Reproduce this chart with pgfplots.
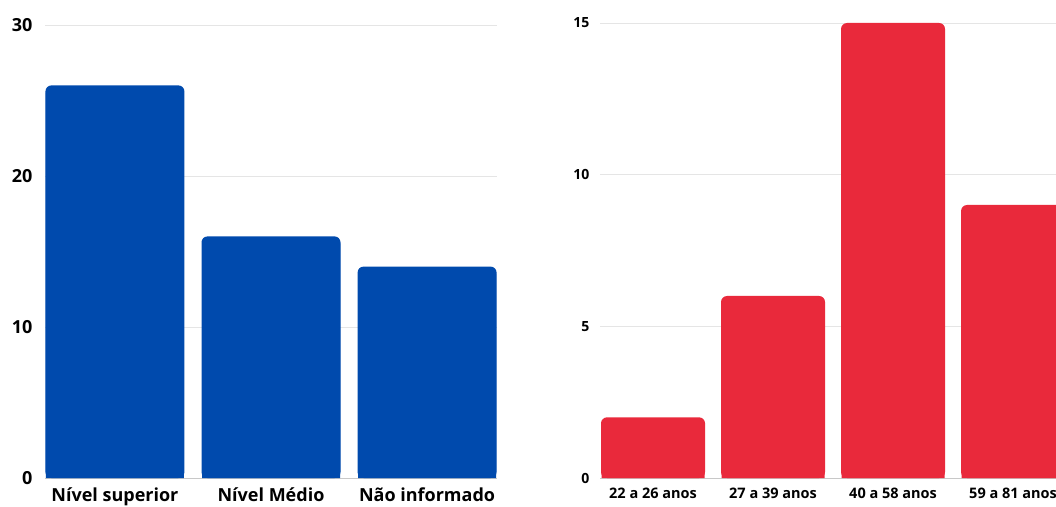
\documentclass[border=0pt]{standalone}
\usepackage{pgfplots}
\pgfplotsset{compat=1.18}
\usepackage{fontspec}
\setmainfont{Open Sans}
\definecolor{barblue}{RGB}{0,74,173}
\definecolor{barred}{RGB}{233,41,59}
\definecolor{gridgray}{RGB}{229,229,229}
\definecolor{basegray}{RGB}{200,200,200}
\pgfplotsset{
  common/.style={
    scale only axis,
    anchor=south west,
    ymin=0,
    axis x line*=bottom,
    axis y line*=left,
    y axis line style={draw=none},
    x axis line style={draw=basegray, line width=0.8pt},
    major tick length=0pt,
    ymajorgrids,
    grid style={gridgray, line width=0.8pt},
    xtick=data,
    /pgf/number format/assume math mode=true,
    ticklabel style={font=\bfseries},
    ybar, bar shift=0pt,
  }
}
\begin{document}
\begin{tikzpicture}
\path[use as bounding box] (0,0) rectangle (1056pt,506pt);
% Left panel
\begin{axis}[common,
  at={(45pt,28pt)}, width=452pt, height=453pt,
  xmin=-0.448, xmax=2.448, ymax=30,
  ytick={0,10,20,30},
  xticklabels={Nível superior, Nível Médio, Não informado},
  x tick label style={font=\bfseries\fontsize{18}{20}\selectfont, yshift=-6pt},
  y tick label style={font=\bfseries\fontsize{18}{20}\selectfont, xshift=-9pt},
]
\addplot[fill=barblue, draw=none, bar width=139pt, rounded corners=6pt] coordinates {(0,26) (1,16) (2,14)};
% square lower part (keeps bottom corners square)
\addplot[fill=barblue, draw=none, bar width=138pt, y filter/.expression={y-0.5}] coordinates {(0,26) (1,16) (2,14)};
\end{axis}
% Right panel
\begin{axis}[common,
  at={(600pt,28pt)}, width=456pt, height=455pt,
  xmin=-0.4417, xmax=3.358, ymax=15,
  ytick={0,5,10,15},
  xticklabels={22 a 26 anos, 27 a 39 anos, 40 a 58 anos, 59 a 81 anos},
  x tick label style={font=\bfseries\fontsize{14.5}{16}\selectfont, yshift=-6pt},
  y tick label style={font=\bfseries\fontsize{14}{16}\selectfont, xshift=-7pt},
]
\addplot[fill=barred, draw=none, bar width=104pt, rounded corners=6pt] coordinates {(0,2) (1,6) (2,15) (3,9)};
\addplot[fill=barred, draw=none, bar width=103pt, y filter/.expression={y-0.25}] coordinates {(0,2) (1,6) (2,15) (3,9)};
\end{axis}
\end{tikzpicture}
\end{document}
